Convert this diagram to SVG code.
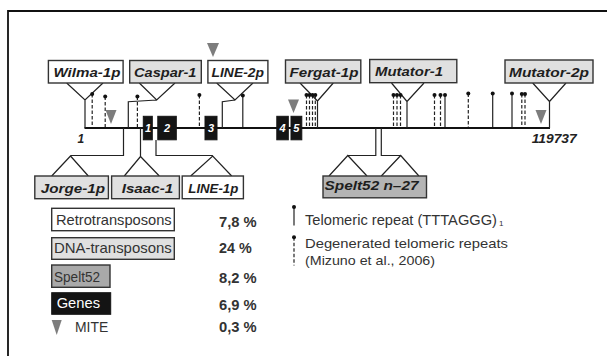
<svg xmlns="http://www.w3.org/2000/svg" width="607" height="356" viewBox="0 0 607 356">
<defs>
<style>
.frame{fill:none;stroke:#111;stroke-width:1.8}
.box{stroke:#333;stroke-width:1.4}
.w{fill:#fff}
.lg{fill:#e0e0e0}
.mg{fill:#b4b4b4}
.blk{fill:#141414;stroke:#141414;stroke-width:1}
.lbl{font-family:"Liberation Sans",Arial,sans-serif;font-weight:bold;font-style:italic;font-size:13px;fill:#1e1e1e}
.gn{font-family:"Liberation Sans",Arial,sans-serif;font-weight:bold;font-style:italic;font-size:11px;fill:#fff;text-anchor:middle}
.pos{font-family:"Liberation Sans",Arial,sans-serif;font-weight:bold;font-style:italic;font-size:12px;fill:#222}
.leg{font-family:"Liberation Sans",Arial,sans-serif;font-size:15px;fill:#333}
.leg2{font-family:"Liberation Sans",Arial,sans-serif;font-size:13.5px;fill:#333}
.pct{font-family:"Liberation Sans",Arial,sans-serif;font-weight:bold;font-size:14px;fill:#333}
.ln{fill:none;stroke:#222;stroke-width:1.2}
.main{fill:none;stroke:#111;stroke-width:2.2}
.sol{stroke:#222;stroke-width:1.2}
.dsh{stroke:#222;stroke-width:1.2;stroke-dasharray:3.5,2}
.dot{fill:#111}
.mite{fill:#7d7d7d}
</style>
</defs>
<path class="frame" d="M8,356 V11 H607"/>

<g id="connectors">
<line class="main" x1="84.5" y1="128" x2="550" y2="128"/>
<path class="ln" d="M66.7,83 L85,100 L103,83 M85,100 V128"/>
<path class="ln" d="M139.3,83 L156.7,100 L175,83 M156.7,100 L128.3,101.7 V128"/>
<path class="ln" d="M216.7,83 L235,100 L253,83 M235,100 L222.3,101.7 V128"/>
<path class="ln" d="M300,83 L317.5,101 L333.3,83 M317.5,101 V128"/>
<path class="ln" d="M391.5,83 L407,101.5 L424,83 M407,101.5 V128"/>
<path class="ln" d="M532.7,83 L549.5,101.5 L566,83 M549.5,101.5 V128"/>
<path class="ln" d="M123.5,128 V155.5 H70.5 M51.7,176 L70.5,156 L88.3,176"/>
<path class="ln" d="M140.5,128 V156.5 M124.3,176 L140.5,156.5 L159.3,176"/>
<path class="ln" d="M156,140 V155.5 H212.7 M190.7,176 L212.7,156 L231.7,176"/>
<path class="ln" d="M375.8,128 V155.5 H347.8 M329,176 L347.8,155.5 L367,176"/>
<path class="ln" d="M381.3,128 V155.5 H400.7 M381.3,176 L400.7,155.5 L418.9,176"/>
<g id="repeats">
<line class="dsh" x1="92.2" y1="94" x2="92.2" y2="127"/><circle class="dot" cx="92.2" cy="94" r="2"/>
<line class="dsh" x1="105.2" y1="96.5" x2="105.2" y2="127"/><circle class="dot" cx="105.2" cy="96.5" r="2"/>
<line class="dsh" x1="137.4" y1="96.5" x2="137.4" y2="127"/><circle class="dot" cx="137.4" cy="96.5" r="2"/>
<line class="dsh" x1="199.4" y1="95" x2="199.4" y2="127"/><circle class="dot" cx="199.4" cy="95" r="2"/>
<line class="sol" x1="242.8" y1="95.5" x2="242.8" y2="127"/><circle class="dot" cx="242.8" cy="95.5" r="2"/>
<line class="dsh" x1="306.5" y1="95" x2="306.5" y2="127"/><circle class="dot" cx="306.5" cy="95" r="2"/>
<line class="dsh" x1="309.5" y1="95" x2="309.5" y2="127"/><circle class="dot" cx="309.5" cy="95" r="2"/>
<line class="dsh" x1="312.5" y1="95" x2="312.5" y2="127"/><circle class="dot" cx="312.5" cy="95" r="2"/>
<line class="dsh" x1="315.3" y1="95" x2="315.3" y2="127"/><circle class="dot" cx="315.3" cy="95" r="2"/>
<line class="dsh" x1="393.5" y1="95" x2="393.5" y2="127"/><circle class="dot" cx="393.5" cy="95" r="2"/>
<line class="dsh" x1="397" y1="95" x2="397" y2="127"/><circle class="dot" cx="397" cy="95" r="2"/>
<line class="dsh" x1="400.5" y1="95" x2="400.5" y2="127"/><circle class="dot" cx="400.5" cy="95" r="2"/>
<line class="dsh" x1="434.5" y1="95" x2="434.5" y2="127"/><circle class="dot" cx="434.5" cy="95" r="2"/>
<line class="dsh" x1="440.5" y1="95" x2="440.5" y2="127"/><circle class="dot" cx="440.5" cy="95" r="2"/>
<line class="sol" x1="445" y1="95" x2="445" y2="127"/><circle class="dot" cx="445" cy="95" r="2"/>
<line class="dsh" x1="468.3" y1="93.5" x2="468.3" y2="127"/><circle class="dot" cx="468.3" cy="93.5" r="2"/>
<line class="sol" x1="492.7" y1="93.5" x2="492.7" y2="127"/><circle class="dot" cx="492.7" cy="93.5" r="2"/>
<line class="sol" x1="512" y1="93.5" x2="512" y2="127"/><circle class="dot" cx="512" cy="93.5" r="2"/>
<line class="dsh" x1="521.8" y1="94" x2="521.8" y2="127"/><circle class="dot" cx="521.8" cy="94" r="2"/>
<line class="dsh" x1="525" y1="94" x2="525" y2="127"/><circle class="dot" cx="525" cy="94" r="2"/>
</g>
</g>

<g id="mites">
<polygon class="mite" points="105.5,110 116.5,110 111,124"/>
<polygon class="mite" points="207,43 219,43 213,57"/>
<polygon class="mite" points="288,99.5 299,99.5 293.5,113"/>
<polygon class="mite" points="535.5,110 546.5,110 541,124"/>
</g>

<g id="gene1"><rect class="blk" x="143.3" y="116.3" width="9" height="23.5"/><text class="gn" x="148" y="132">1</text></g>
<g id="gene2"><rect class="blk" x="157.8" y="116.3" width="18.5" height="23.5"/><text class="gn" x="167" y="132">2</text></g>
<g id="gene3"><rect class="blk" x="205" y="116.3" width="12" height="23.5"/><text class="gn" x="211" y="132">3</text></g>
<g id="gene4"><rect class="blk" x="276.8" y="116.3" width="11.5" height="23.5"/><text class="gn" x="282.5" y="132">4</text></g>
<g id="gene5"><rect class="blk" x="291" y="116.3" width="10.8" height="23.5"/><text class="gn" x="296.4" y="132">5</text></g>

<text class="pos" x="77.5" y="142.5">1</text>
<text class="pos" x="531.7" y="143" textLength="45" lengthAdjust="spacingAndGlyphs">119737</text>

<g id="wilma"><rect class="box w" x="48.4" y="60.5" width="74.7" height="22.5"/><text class="lbl" x="53.5" y="76.5" textLength="67" lengthAdjust="spacingAndGlyphs">Wilma-1p</text></g>
<g id="caspar"><rect class="box lg" x="129.7" y="60.5" width="71.6" height="22.5"/><text class="lbl" x="134" y="76.5" textLength="62.5" lengthAdjust="spacingAndGlyphs">Caspar-1</text></g>
<g id="line2p"><rect class="box w" x="207.9" y="60.5" width="60" height="22.5"/><text class="lbl" x="211.5" y="76.5" textLength="52.5" lengthAdjust="spacingAndGlyphs">LINE-2p</text></g>
<g id="fergat"><rect class="box lg" x="285.5" y="60" width="75.3" height="23"/><text class="lbl" x="289.5" y="76.5" textLength="69" lengthAdjust="spacingAndGlyphs">Fergat-1p</text></g>
<g id="mutator1"><rect class="box lg" x="369.7" y="59.5" width="87.1" height="23.2"/><text class="lbl" x="375" y="76" textLength="68" lengthAdjust="spacingAndGlyphs">Mutator-1</text></g>
<g id="mutator2p"><rect class="box lg" x="505" y="60" width="88" height="23"/><text class="lbl" x="509" y="77" textLength="80" lengthAdjust="spacingAndGlyphs">Mutator-2p</text></g>

<g id="jorge"><rect class="box lg" x="34.8" y="176" width="73.6" height="22.7"/><text class="lbl" x="40.7" y="192.5" textLength="64.3" lengthAdjust="spacingAndGlyphs">Jorge-1p</text></g>
<g id="isaac"><rect class="box lg" x="111.6" y="176" width="67.8" height="22.7"/><text class="lbl" x="121.7" y="192.5" textLength="51.6" lengthAdjust="spacingAndGlyphs">Isaac-1</text></g>
<g id="line1p"><rect class="box w" x="182.2" y="176" width="61.2" height="22.7"/><text class="lbl" x="188.3" y="192.5" textLength="50" lengthAdjust="spacingAndGlyphs">LINE-1p</text></g>
<g id="spelt52"><rect class="box mg" x="323" y="176" width="103.5" height="21.8"/><text class="lbl" x="324.5" y="190" textLength="94" lengthAdjust="spacingAndGlyphs">Spelt52 n–27</text></g>

<g id="legend">
<rect class="box w" x="51.7" y="208.3" width="122.6" height="22.4"/>
<text class="leg" x="56" y="225" textLength="115.7" lengthAdjust="spacingAndGlyphs">Retrotransposons</text>
<rect class="box lg" x="51.7" y="237.7" width="122.6" height="21.6"/>
<text class="leg" x="54" y="253.3" textLength="117.7" lengthAdjust="spacingAndGlyphs">DNA-transposons</text>
<rect class="box" style="fill:#a9a9a9" x="51.7" y="265" width="58.3" height="22.3"/>
<text class="leg" x="54" y="281.7" textLength="46" lengthAdjust="spacingAndGlyphs">Spelt52</text>
<rect class="blk" x="51.7" y="292.7" width="59" height="21.6"/>
<text class="leg" style="fill:#fff" x="56.7" y="308.3" textLength="43.3" lengthAdjust="spacingAndGlyphs">Genes</text>
<polygon class="mite" points="51.7,320 61.7,320 56.7,335"/>
<text class="leg" x="75" y="331.7" textLength="33.3" lengthAdjust="spacingAndGlyphs">MITE</text>
<text class="pct" x="219" y="226.7" textLength="37.7" lengthAdjust="spacingAndGlyphs">7,8 %</text>
<text class="pct" x="219" y="253" textLength="32.7" lengthAdjust="spacingAndGlyphs">24 %</text>
<text class="pct" x="219" y="283.3" textLength="37.7" lengthAdjust="spacingAndGlyphs">8,2 %</text>
<text class="pct" x="219" y="310" textLength="37.7" lengthAdjust="spacingAndGlyphs">6,9 %</text>
<text class="pct" x="219" y="331.7" textLength="37.7" lengthAdjust="spacingAndGlyphs">0,3 %</text>
<line class="sol" x1="294" y1="207" x2="294" y2="225.5"/><circle class="dot" cx="294" cy="207" r="2"/>
<text class="leg" x="305" y="225"><tspan textLength="192" lengthAdjust="spacingAndGlyphs">Telomeric repeat (TTTAGGG)</tspan><tspan style="font-size:8px" dx="2" dy="1">1</tspan></text>
<line class="dsh" x1="294" y1="237.3" x2="294" y2="265.5"/><circle class="dot" cx="294" cy="237.3" r="2"/>
<text class="leg2" x="305" y="248" textLength="203" lengthAdjust="spacingAndGlyphs">Degenerated telomeric repeats</text>
<text class="leg2" x="305" y="264.5" textLength="130" lengthAdjust="spacingAndGlyphs">(Mizuno et al., 2006)</text>
</g>
</svg>
